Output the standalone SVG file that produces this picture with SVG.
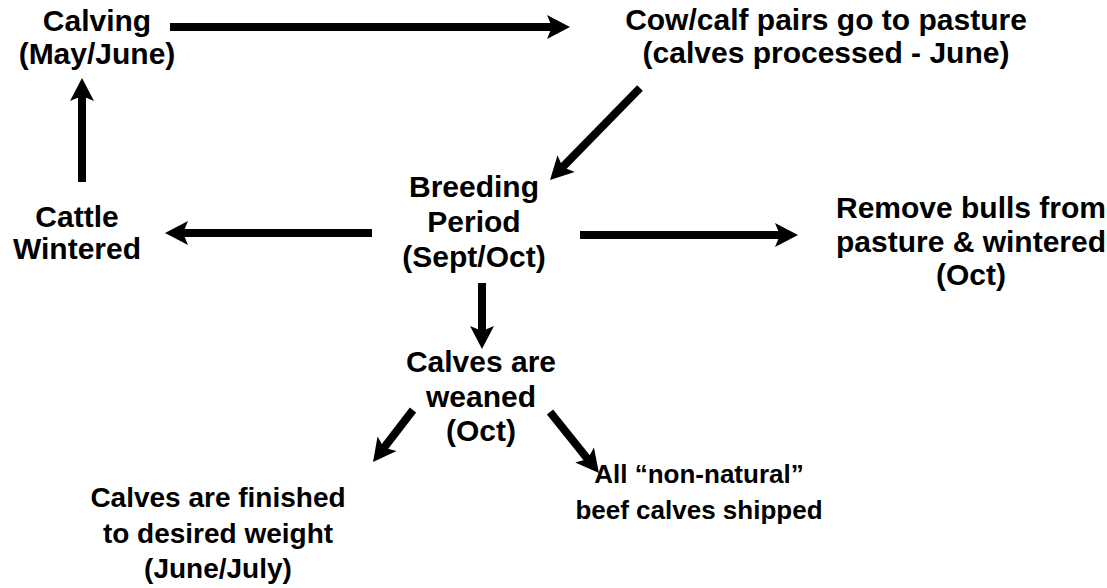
<svg xmlns="http://www.w3.org/2000/svg" width="1107" height="588" viewBox="0 0 1107 588">
<style>
text{font-family:"Liberation Sans",Arial,sans-serif;font-weight:bold;font-size:30px;fill:#000;text-anchor:middle}
.s28 text{font-size:28px}
.s26 text{font-size:26px}
.c{stroke:#000;stroke-width:8;fill:none;marker-end:url(#ah)}
</style>
<defs>
<marker id="ah" markerUnits="userSpaceOnUse" viewBox="-6 -13 25 26" refX="0" refY="0" markerWidth="25" markerHeight="26" orient="auto">
<path d="M18,0 L-5,-12 L0,0 L-5,12 Z" fill="#000"/>
</marker>
</defs>
<rect width="1107" height="588" fill="#fff"/>
<g id="connectors">
<line class="c" x1="170" y1="27" x2="552" y2="27"/>
<line class="c" x1="640" y1="88" x2="562.6" y2="167.1"/>
<line class="c" x1="82" y1="182" x2="82" y2="96"/>
<line class="c" x1="372" y1="233" x2="183" y2="233"/>
<line class="c" x1="580" y1="235" x2="780" y2="235"/>
<line class="c" x1="482" y1="283" x2="482" y2="331"/>
<line class="c" x1="413" y1="410" x2="384" y2="447.7"/>
<line class="c" x1="550" y1="412" x2="587.7" y2="459"/>
</g>
<g id="calving"><text x="97" y="31">Calving</text><text x="97" y="64">(May/June)</text></g>
<g id="pasture"><text x="826" y="30">Cow/calf pairs go to pasture</text><text x="826" y="63">(calves processed - June)</text></g>
<g id="breeding"><text x="474" y="197">Breeding</text><text x="474" y="232">Period</text><text x="474" y="267">(Sept/Oct)</text></g>
<g id="wintered"><text x="77" y="227">Cattle</text><text x="77" y="259">Wintered</text></g>
<g id="bulls"><text x="971" y="218">Remove bulls from</text><text x="971" y="252">pasture &amp; wintered</text><text x="971" y="285">(Oct)</text></g>
<g id="weaned"><text x="481" y="372">Calves are</text><text x="481" y="407">weaned</text><text x="481" y="441">(Oct)</text></g>
<g id="finished" class="s28"><text x="218" y="507">Calves are finished</text><text x="218" y="543">to desired weight</text><text x="218" y="578">(June/July)</text></g>
<g id="shipped" class="s26"><text x="699" y="483">All “non-natural”</text><text x="699" y="519">beef calves shipped</text></g>
</svg>
